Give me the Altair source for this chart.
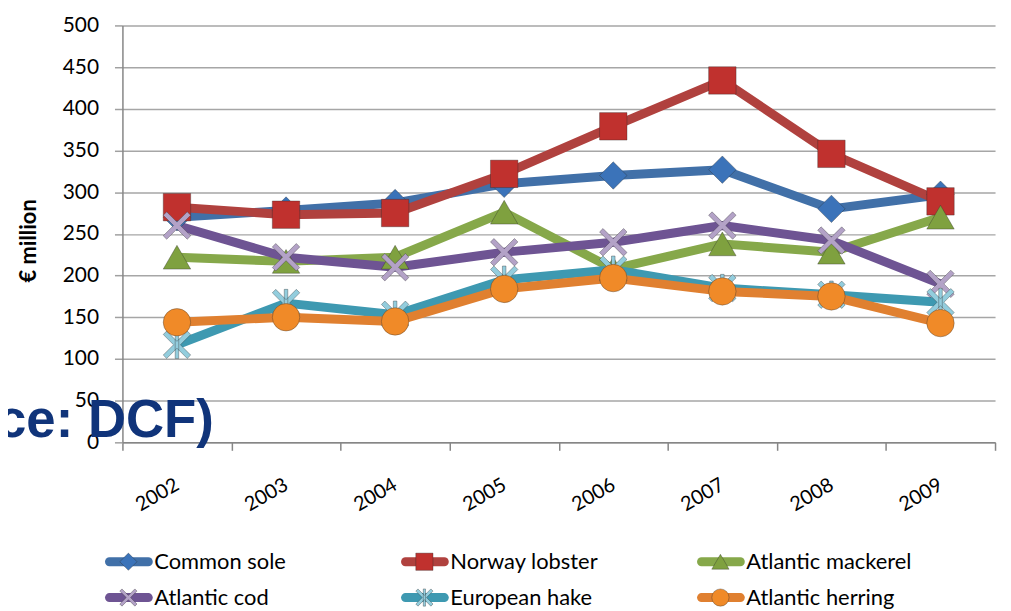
import altair as alt
import pandas as pd

years = ["2002", "2003", "2004", "2005", "2006", "2007", "2008", "2009"]
series_names = ["Common sole", "Norway lobster", "Atlantic mackerel",
                "Atlantic cod", "European hake", "Atlantic herring"]
common_sole = [270, 278, 287, 310, 320, 327, 280, 297]
norway_lobster = [282, 273, 275, 322, 379, 434, 346, 289]
atlantic_mackerel = [222, 217, 222, 276, 208, 238, 228, 270]
atlantic_cod = [260, 222, 210, 228, 240, 260, 242, 190]
european_hake = [117, 167, 153, 195, 207, 185, 177, 168]
atlantic_herring = [144, 150, 145, 184, 197, 181, 175, 143]
y_ticks = [0, 50, 100, 150, 200, 250, 300, 350, 400, 450, 500]
y_title = "€ million"
overlay_text = ["ce: DCF)"]

line_colors = ["#4170A8", "#B0413E", "#86A84A", "#6E5493", "#3E99B1", "#E08030"]
marker_colors = ["#3B73B9", "#C0312E", "#7FA13F", "#B3A2C7", "#93CDDD", "#F08A28"]

x_path = ("M-1,-0.75L-0.75,-1L0,-0.25L0.75,-1L1,-0.75L0.25,0L1,0.75"
          "L0.75,1L0,0.25L-0.75,1L-1,0.75L-0.25,0Z")
star_path = x_path + "M-0.13,-1L0.13,-1L0.13,1L-0.13,1Z"
shapes = ["diamond", "square", "triangle-up", x_path, star_path, "circle"]

values = [common_sole, norway_lobster, atlantic_mackerel,
          atlantic_cod, european_hake, atlantic_herring]
rows = []
for name, vals in zip(series_names, values):
    for yr, v in zip(years, vals):
        rows.append({"series": name, "year": yr, "value": v})
df = pd.DataFrame(rows)

# legend table: 3 columns x 2 rows, row-major
legend_df = pd.DataFrame({
    "series": series_names,
    "col": [i % 3 for i in range(len(series_names))],
    "row": [i // 3 for i in range(len(series_names))],
})

font = "Lato"

stroke_scale = alt.Scale(domain=series_names, range=line_colors)
fill_scale = alt.Scale(domain=series_names, range=marker_colors)
shape_scale = alt.Scale(domain=series_names, range=shapes)

x_enc = alt.X(
    "year:O",
    scale=alt.Scale(type="band", paddingInner=0, paddingOuter=0),
    bandPosition=0.5,
    axis=alt.Axis(
        title=None, labelAngle=330, labelAlign="right", labelBaseline="middle",
        labelPadding=33, labelFontSize=20, labelFont=font, labelColor="#000000",
        tickBand="extent", tickSize=8, tickColor="#868686", tickWidth=1.5,
        domainColor="#868686", domainWidth=1.5, grid=False,
    ),
)
y_enc = alt.Y(
    "value:Q",
    scale=alt.Scale(domain=[0, 500], nice=False, zero=True),
    axis=alt.Axis(
        title=y_title, values=y_ticks, labelFontSize=21, labelFont=font,
        labelColor="#000000", labelPadding=16, tickSize=8, tickColor="#A0A0A0",
        tickWidth=1.5, domainColor="#868686", domainWidth=1.5,
        gridColor="#A6A6A6", gridWidth=1.5,
        titleFont=font, titleFontSize=22, titleFontWeight="bold",
        titleColor="#000000", titleAngle=270, titleX=-94, titleY=216,
        titleAlign="center", titleBaseline="middle",
    ),
)

base = alt.Chart(df)

lines = base.mark_line(strokeWidth=9, strokeJoin="round", strokeCap="butt").encode(
    x=x_enc,
    y=y_enc,
    stroke=alt.Stroke("series:N", scale=stroke_scale, legend=None),
    detail="series:N",
)

points = base.mark_point(filled=True, size=760, opacity=1,
                         stroke="rgba(40,40,40,0.35)", strokeWidth=1).encode(
    x=x_enc,
    y=y_enc,
    fill=alt.Fill("series:N", scale=fill_scale, legend=None),
    shape=alt.Shape("series:N", scale=shape_scale, legend=None),
)

overlay = alt.Chart(pd.DataFrame({"t": overlay_text})).mark_text(
    font="Liberation Sans", fontSize=53, fontWeight="bold", color="#10347A",
    align="left", baseline="alphabetic",
).encode(text="t:N", x=alt.value(-126), y=alt.value(414))

# hand-built legend (line segment + marker + label), placed below the axis
lx = alt.X("col:Q", scale=alt.Scale(domain=[0, 2], range=[-17, 578]), axis=None)
ly = alt.Y("row:Q", scale=alt.Scale(domain=[0, 1], range=[539, 575]), axis=None)
leg = alt.Chart(legend_df)
leg_line = leg.mark_rule(strokeWidth=9, strokeCap="round", xOffset=4, x2Offset=43).encode(
    x=lx, x2="col:Q", y=ly,
    stroke=alt.Stroke("series:N", scale=stroke_scale, legend=None),
)
leg_mark = leg.mark_point(filled=True, size=300, opacity=1, xOffset=23,
                          stroke="rgba(40,40,40,0.35)", strokeWidth=1).encode(
    x=lx, y=ly,
    fill=alt.Fill("series:N", scale=fill_scale, legend=None),
    shape=alt.Shape("series:N", scale=shape_scale, legend=None),
)
leg_text = leg.mark_text(align="left", baseline="middle", dx=49, font=font,
                         fontSize=22, color="#000000").encode(
    x=lx, y=ly, text="series:N",
)

main = alt.layer(lines, points, overlay)
legend_layer = alt.layer(leg_line, leg_mark, leg_text)

chart = alt.layer(main, legend_layer).resolve_scale(
    x="independent", y="independent"
).properties(
    width=877, height=419,
    autosize=alt.AutoSizeParams(type="none"),
    padding={"left": 115, "top": 16, "right": 8, "bottom": 168},
).configure_view(stroke=None)

chart.save("out.html", embed_options={"renderer": "svg", "actions": False})
